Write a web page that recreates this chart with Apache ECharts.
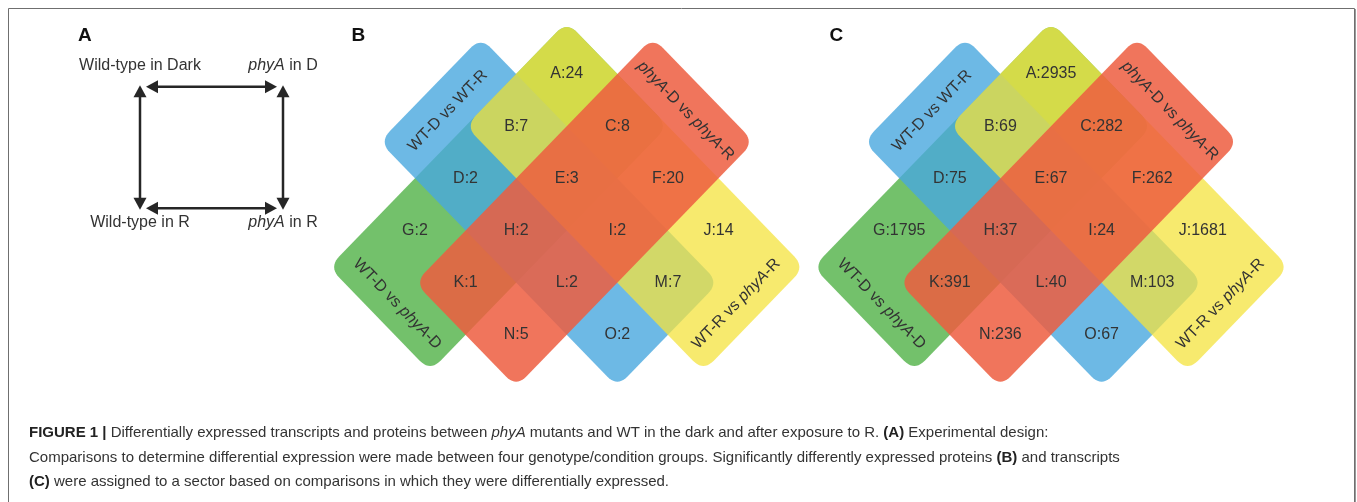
<!DOCTYPE html>
<html>
<head>
<meta charset="utf-8">
<script src="https://cdn.jsdelivr.net/npm/echarts@6/dist/echarts.min.js"></script>
<style>
  html, body { margin: 0; padding: 0; background: #ffffff; }
  #chart { width: 1357px; height: 502px; }
</style>
</head>
<body>
<div id="chart"></div>
<script>
// ---------- Panel A: experimental design ----------
const groupLabels = ['Wild-type in Dark', '{i|phyA} in D', 'Wild-type in R', '{i|phyA} in R'];
// pairs of groups that were compared (indices into groupLabels)
const comparisons = [[0, 1], [0, 2], [1, 3], [2, 3]];

// ---------- Panels B and C: four-way Venn diagrams ----------
const setNames = ['WT-D vs WT-R', '{i|phyA}-D vs {i|phyA}-R', 'WT-D vs {i|phyA}-D', 'WT-R vs {i|phyA}-R'];
// cells covered by each set along the two diagonal directions (i: down-right, j: up-right)
const setSpanI = [[0, 3], [1, 2], [0, 1], [0, 3]];
const setSpanJ = [[1, 2], [0, 3], [0, 3], [2, 3]];
// end of each set that carries its name
const setTail = ['i0', 'j1', 'j0', 'i1'];
const setColors = ['rgba(72,168,222,0.80)', 'rgba(237,93,64,0.85)', 'rgba(91,182,81,0.85)', 'rgba(244,227,62,0.75)'];
const setDrawOrder = [2, 0, 3, 1];

const regionLetters = ['A', 'B', 'C', 'D', 'E', 'F', 'G', 'H', 'I', 'J', 'K', 'L', 'M', 'N', 'O'];
const regionCells = [[0, 3], [0, 2], [1, 3], [0, 1], [1, 2], [2, 3], [0, 0], [1, 1], [2, 2], [3, 3],
                     [1, 0], [2, 1], [3, 2], [2, 0], [3, 1]];
const proteinCounts = [24, 7, 8, 2, 3, 20, 2, 2, 2, 14, 1, 2, 7, 5, 2];
const transcriptCounts = [2935, 69, 282, 75, 67, 262, 1795, 37, 24, 1681, 391, 40, 103, 236, 67];

// ---------- layout ----------
const FONT = 'Liberation Sans, Arial, Helvetica, sans-serif';
const INK = '#333333';
const TAIL = 0.7;        // length of the named end of a set, in cells
const CORNER = 15;       // corner radius of the set shapes, px
const sx = 50.6, sy = 52.2, cy = 230.5, cxB = 566.75, cxC = 1051;

// cell coordinates (i, j) -> axis coordinates (X, Y)
function toXY(i, j) { return [i + j - 4, i - j]; }

function roundedPolygon(pts, r, seg) {
  const out = [];
  const n = pts.length;
  for (let k = 0; k < n; k++) {
    const p0 = pts[(k + n - 1) % n], p1 = pts[k], p2 = pts[(k + 1) % n];
    const l1 = Math.hypot(p0[0] - p1[0], p0[1] - p1[1]);
    const l2 = Math.hypot(p2[0] - p1[0], p2[1] - p1[1]);
    const a = [p1[0] + (p0[0] - p1[0]) * r / l1, p1[1] + (p0[1] - p1[1]) * r / l1];
    const b = [p1[0] + (p2[0] - p1[0]) * r / l2, p1[1] + (p2[1] - p1[1]) * r / l2];
    for (let t = 0; t <= seg; t++) {
      const s = t / seg;
      out.push([
        (1 - s) * (1 - s) * a[0] + 2 * (1 - s) * s * p1[0] + s * s * b[0],
        (1 - s) * (1 - s) * a[1] + 2 * (1 - s) * s * p1[1] + s * s * b[1]
      ]);
    }
  }
  return out;
}

function setBounds(k) {
  let i0 = setSpanI[k][0], i1 = setSpanI[k][1] + 1;
  let j0 = setSpanJ[k][0], j1 = setSpanJ[k][1] + 1;
  if (setTail[k] === 'i0') i0 -= TAIL;
  if (setTail[k] === 'i1') i1 += TAIL;
  if (setTail[k] === 'j0') j0 -= TAIL;
  if (setTail[k] === 'j1') j1 += TAIL;
  return { i0, i1, j0, j1 };
}

function renderSet(params, api) {
  const k = setDrawOrder[params.dataIndex];
  const b = setBounds(k);
  const corners = [[b.i0, b.j0], [b.i1, b.j0], [b.i1, b.j1], [b.i0, b.j1]]
    .map(c => api.coord(toXY(c[0], c[1])));
  return {
    type: 'polygon',
    shape: { points: roundedPolygon(corners, CORNER, 10) },
    style: { fill: setColors[k], stroke: null }
  };
}

function renderSetName(params, api) {
  const k = params.dataIndex;
  const b = setBounds(k);
  const tail = setTail[k];
  let ci, cj, dir;
  if (tail === 'i0' || tail === 'i1') {
    ci = tail === 'i0' ? b.i0 + TAIL / 2 : b.i1 - TAIL / 2;
    cj = (b.j0 + b.j1) / 2;
    dir = [[ci, b.j0], [ci, b.j1]];
  } else {
    cj = tail === 'j0' ? b.j0 + TAIL / 2 : b.j1 - TAIL / 2;
    ci = (b.i0 + b.i1) / 2;
    dir = [[b.i0, cj], [b.i1, cj]];
  }
  const c = api.coord(toXY(ci, cj));
  const a0 = api.coord(toXY(dir[0][0], dir[0][1]));
  const a1 = api.coord(toXY(dir[1][0], dir[1][1]));
  const rot = -Math.atan2(a1[1] - a0[1], a1[0] - a0[0]);
  return {
    type: 'text',
    x: c[0], y: c[1] + 3, rotation: rot,
    style: {
      text: setNames[k],
      fill: INK, fontSize: 16, fontFamily: FONT,
      align: 'center', verticalAlign: 'middle',
      rich: { i: { fontStyle: 'italic', fontSize: 16, fontFamily: FONT, fill: INK } }
    }
  };
}

function regionRenderer(counts) {
  return function (params, api) {
    const p = api.coord([api.value(0), api.value(1)]);
    const n = params.dataIndex;
    return {
      type: 'text', x: p[0], y: p[1],
      style: {
        text: regionLetters[n] + ':' + counts[n],
        fill: INK, fontSize: 16, fontFamily: FONT,
        align: 'center', verticalAlign: 'middle'
      }
    };
  };
}

const regionData = regionCells.map(c => toXY(c[0] + 0.5, c[1] + 0.5));
const setData = setDrawOrder.map(() => [0, 0]);

function vennSeries(gridIndex, counts) {
  return [
    { type: 'custom', xAxisIndex: gridIndex, yAxisIndex: gridIndex, data: setData,
      renderItem: renderSet, silent: true, z: 2 },
    { type: 'custom', xAxisIndex: gridIndex, yAxisIndex: gridIndex, data: setNames.map(() => [0, 0]),
      renderItem: renderSetName, silent: true, z: 3 },
    { type: 'custom', xAxisIndex: gridIndex, yAxisIndex: gridIndex, data: regionData,
      renderItem: regionRenderer(counts), silent: true, z: 4 }
  ];
}

// group k sits at column k % 2 (genotype) and row floor(k / 2) (condition)
const groupPos = groupLabels.map((_, k) => [k % 2, Math.floor(k / 2)]);

function renderArrow(params, api) {
  const p = api.coord([api.value(0), api.value(1)]);
  const q = api.coord([api.value(2), api.value(3)]);
  const len = Math.hypot(q[0] - p[0], q[1] - p[1]);
  const d = [(q[0] - p[0]) / len, (q[1] - p[1]) / len];
  const nrm = [-d[1], d[0]];
  const horizontal = Math.abs(d[0]) > Math.abs(d[1]);
  const inset = horizontal ? 6 : -1.5;
  const head = 12, half = 6.5;
  const t0 = [p[0] + d[0] * inset, p[1] + d[1] * inset];
  const t1 = [q[0] - d[0] * inset, q[1] - d[1] * inset];
  const tri = (t, s) => [t,
    [t[0] + s * d[0] * head + nrm[0] * half, t[1] + s * d[1] * head + nrm[1] * half],
    [t[0] + s * d[0] * head - nrm[0] * half, t[1] + s * d[1] * head - nrm[1] * half]];
  const col = '#262626';
  return {
    type: 'group',
    children: [
      { type: 'line', shape: { x1: t0[0] + d[0] * head * 0.8, y1: t0[1] + d[1] * head * 0.8,
          x2: t1[0] - d[0] * head * 0.8, y2: t1[1] - d[1] * head * 0.8 },
        style: { stroke: col, lineWidth: 2.5 } },
      { type: 'polygon', shape: { points: tri(t0, 1) }, style: { fill: col } },
      { type: 'polygon', shape: { points: tri(t1, -1) }, style: { fill: col } }
    ]
  };
}

function renderGroup(params, api) {
  const p = api.coord([api.value(0), api.value(1)]);
  const k = params.dataIndex;
  const top = groupPos[k][1] === 0;
  return {
    type: 'text', x: p[0], y: p[1] + (top ? -21 : 14.5),
    style: {
      text: groupLabels[k], fill: INK, fontSize: 16, fontFamily: FONT,
      align: 'center', verticalAlign: 'middle',
      rich: { i: { fontStyle: 'italic', fontSize: 16, fontFamily: FONT, fill: INK } }
    }
  };
}

const CAP = 15;
const capRich = {
  b: { fontWeight: 'bold', fontSize: CAP, fontFamily: FONT, fill: '#222' },
  i: { fontStyle: 'italic', fontSize: CAP, fontFamily: FONT, fill: INK }
};
const captionLines = [
  '{b|FIGURE 1 |} Differentially expressed transcripts and proteins between {i|phyA} mutants and WT in the dark and after exposure to R. {b|(A)} Experimental design:',
  'Comparisons to determine differential expression were made between four genotype/condition groups. Significantly differently expressed proteins {b|(B)} and transcripts',
  '{b|(C)} were assigned to a sector based on comparisons in which they were differentially expressed.'
];
const captionY = [433, 458, 482];

const chart = echarts.init(document.getElementById('chart'), null, { renderer: 'canvas' });
chart.setOption({
  animation: false,
  backgroundColor: '#ffffff',
  grid: [
    { left: 140, top: 86.7, width: 143, height: 121.6 },
    { left: cxB - 5 * sx, top: cy - 4.2 * sy, width: 10 * sx, height: 8.4 * sy },
    { left: cxC - 5 * sx, top: cy - 4.2 * sy, width: 10 * sx, height: 8.4 * sy }
  ],
  xAxis: [
    { gridIndex: 0, type: 'value', min: 0, max: 1, show: false },
    { gridIndex: 1, type: 'value', min: -5, max: 5, show: false },
    { gridIndex: 2, type: 'value', min: -5, max: 5, show: false }
  ],
  yAxis: [
    { gridIndex: 0, type: 'value', min: 0, max: 1, inverse: true, show: false },
    { gridIndex: 1, type: 'value', min: -4.2, max: 4.2, inverse: true, show: false },
    { gridIndex: 2, type: 'value', min: -4.2, max: 4.2, inverse: true, show: false }
  ],
  series: [
    { type: 'custom', xAxisIndex: 0, yAxisIndex: 0, silent: true,
      data: comparisons.map(c => [groupPos[c[0]][0], groupPos[c[0]][1], groupPos[c[1]][0], groupPos[c[1]][1]]),
      encode: { x: [0, 2], y: [1, 3] },
      renderItem: renderArrow },
    { type: 'custom', xAxisIndex: 0, yAxisIndex: 0, silent: true,
      data: groupPos, renderItem: renderGroup },
    ...vennSeries(1, proteinCounts),
    ...vennSeries(2, transcriptCounts)
  ],
  graphic: [
    { type: 'rect', silent: true, shape: { x: 8.5, y: 8.5, width: 1346, height: 520 },
      style: { fill: null, stroke: '#6f6f6f', lineWidth: 1 } },
    { type: 'line', silent: true, shape: { x1: 1355.5, y1: 9, x2: 1355.5, y2: 520 },
      style: { stroke: '#9a9a9a', lineWidth: 1 } },
    { type: 'text', x: 78, y: 35.5, style: { text: 'A', fontSize: 19, fontWeight: 'bold', fontFamily: FONT, fill: '#111', verticalAlign: 'middle' } },
    { type: 'text', x: 351.5, y: 35.5, style: { text: 'B', fontSize: 19, fontWeight: 'bold', fontFamily: FONT, fill: '#111', verticalAlign: 'middle' } },
    { type: 'text', x: 829.5, y: 35.5, style: { text: 'C', fontSize: 19, fontWeight: 'bold', fontFamily: FONT, fill: '#111', verticalAlign: 'middle' } },
    ...captionLines.map((t, n) => ({
      type: 'text', x: 29, y: captionY[n], silent: true,
      style: { text: t, rich: capRich, fontSize: CAP, fontFamily: FONT, fill: INK, verticalAlign: 'middle' }
    }))
  ]
});
</script>
</body>
</html>
